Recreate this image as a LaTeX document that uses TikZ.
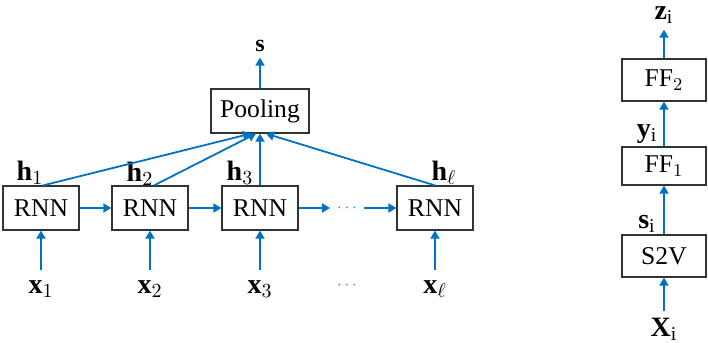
\documentclass[tikz,border=0pt]{standalone}
\usepackage{fontspec}
\setmainfont{Liberation Serif}
\usetikzlibrary{arrows.meta}
\definecolor{arrblue}{RGB}{0,114,198}

\begin{document}
\begin{tikzpicture}[x = 0.5pt, y = -0.5pt, > = {Triangle[length=4pt, width=4.5pt]},
    box/.style = {draw=black!80, line width=0.6pt, inner sep=0pt, minimum height=22pt,
                  font=\fontsize{12.8}{14}\selectfont},
    lbl/.style = {inner sep=3pt, anchor=base, font=\fontsize{14}{16}\selectfont},
    sml/.style = {lbl, font=\fontsize{12}{14}\selectfont},
    gap/.style = {inner sep=0pt, minimum width=16.5pt, text=arrblue, font=\scriptsize},
    arr/.style = {->, draw=arrblue, line width=0.9pt}]

    \useasboundingbox (0, 0) rectangle (708, 343);

    % sentence encoder
    \node[box, minimum width=38pt] (rnn1) at (41, 208) {RNN};
    \node[box, minimum width=38pt] (rnn2) at (150, 208) {RNN};
    \node[box, minimum width=38pt] (rnn3) at (260, 208) {RNN};
    \node[gap] (dotsr) at (347, 208) {$\cdots$};
    \node[box, minimum width=38pt] (rnn4) at (435, 208) {RNN};
    \node[box, minimum width=49pt] (pool) at (260, 111) {Pooling};

    \node[sml] (s) at (260, 51) {$\mathbf{s}$};
    \node[lbl] (h1) at (30, 180) {$\mathbf{h}_1$};
    \node[lbl] (h2) at (140, 181) {$\mathbf{h}_2$};
    \node[lbl] (h3) at (240, 180) {$\mathbf{h}_3$};
    \node[lbl] (hl) at (444, 180) {$\mathbf{h}_\ell$};

    \node[lbl] (x1) at (41, 293) {$\mathbf{x}_1$};
    \node[lbl] (x2) at (150, 293) {$\mathbf{x}_2$};
    \node[lbl] (x3) at (260, 293) {$\mathbf{x}_3$};
    \node[gap] (dotsx) at (347, 285) {$\cdots$};
    \node[lbl] (xl) at (435, 293) {$\mathbf{x}_\ell$};

    \draw[arr] (rnn1) -- (rnn2);
    \draw[arr] (rnn2) -- (rnn3);
    \draw[arr] (rnn3) -- (dotsr);
    \draw[arr] (dotsr) -- (rnn4);

    \draw[arr] ([xshift=1pt]rnn1.north) -- ([xshift=-4.5pt]pool.south);
    \draw[arr] ([xshift=2pt]rnn2.north) -- ([xshift=-2pt]pool.south);
    \draw[arr] (rnn3.north) -- (pool.south);
    \draw[arr] (rnn4.north) -- ([xshift=3pt]pool.south);
    \draw[arr] (pool) -- (s);

    \draw[arr, shorten <=2pt] (x1) -- (rnn1);
    \draw[arr, shorten <=2pt] (x2) -- (rnn2);
    \draw[arr, shorten <=2pt] (x3) -- (rnn3);
    \draw[arr, shorten <=2pt] (xl) -- (rnn4);

    % classifier
    \node[box, minimum width=42pt, minimum height=21pt] (s2v) at (664, 256) {S2V};
    \node[box, minimum width=42pt, minimum height=19pt] (ff1) at (664, 166) {FF$_1$};
    \node[box, minimum width=42pt, minimum height=21pt] (ff2) at (664, 80) {FF$_2$};

    \node[lbl] (X) at (664, 336) {$\mathbf{X}_\mathrm{i}$};
    \node[lbl] (si) at (647, 228) {$\mathbf{s}_\mathrm{i}$};
    \node[lbl] (yi) at (647, 137) {$\mathbf{y}_\mathrm{i}$};
    \node[lbl, inner sep=1pt] (zi) at (664, 19) {$\mathbf{z}_\mathrm{i}$};

    \draw[arr] (X) -- (s2v);
    \draw[arr] (s2v) -- (ff1);
    \draw[arr] (ff1) -- (ff2);
    \draw[arr, shorten >=2pt] (ff2) -- (zi);

\end{tikzpicture}
\end{document}
